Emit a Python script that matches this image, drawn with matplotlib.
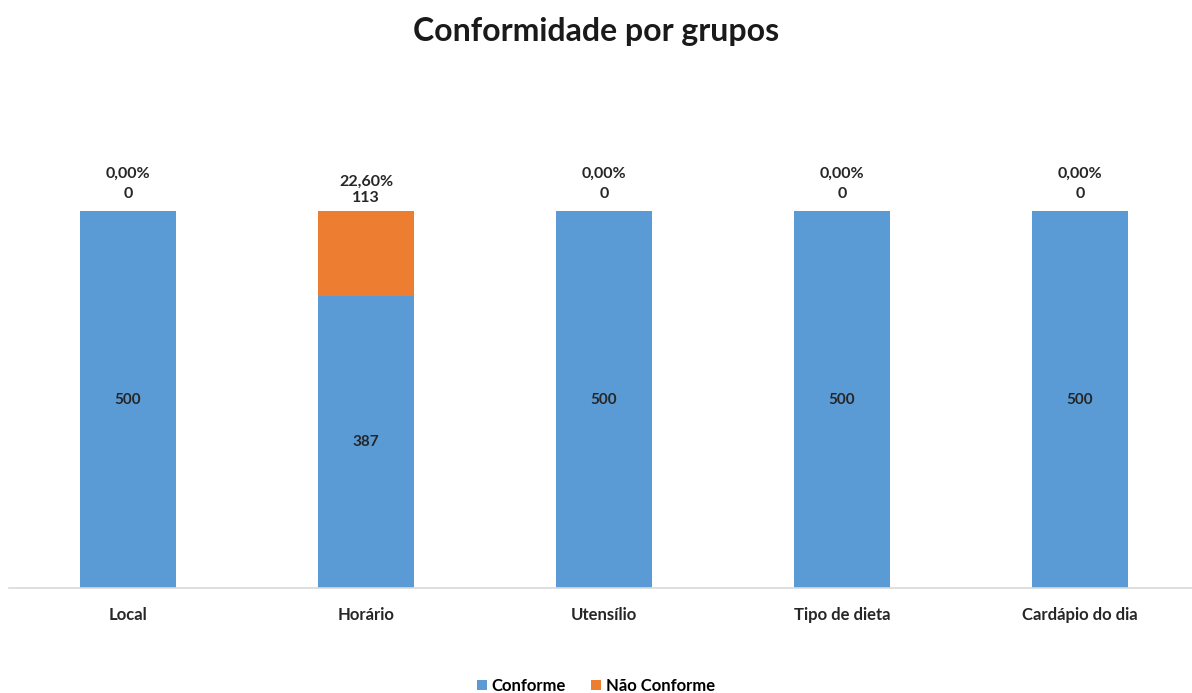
import matplotlib
matplotlib.use('Agg')
import matplotlib.pyplot as plt

categorias = ['Local', 'Horário', 'Utensílio', 'Tipo de dieta', 'Cardápio do dia']
conforme = [500, 387, 500, 500, 500]
nao_conforme = [0, 113, 0, 0, 0]
percentuais = ['0,00%', '22,60%', '0,00%', '0,00%', '0,00%']

_blue = '#5B9BD5'
_orange = '#ED7D31'

plt.rcParams['font.family'] = ['Lato', 'DejaVu Sans']

fig = plt.figure(figsize=(11.92, 6.93), dpi=100)
ax = fig.add_axes([9 / 1192, 105 / 693, 1183 / 1192, 482 / 693])

x = list(range(len(categorias)))
ax.bar(x, conforme, width=0.4, color=_blue, label='Conforme')
ax.bar(x, nao_conforme, width=0.4, bottom=conforme, color=_orange, label='Não Conforme')

ax.set_xlim(-0.5, -0.5 + 1183 / 238)
ax.set_ylim(0, 500 * 482 / 377)

for i, (c, n, p) in enumerate(zip(conforme, nao_conforme, percentuais)):
    ax.text(i, c / 2, str(c), ha='center', va='center', fontsize=11, fontweight='bold', color='#262626')
    off = 4 if n else 7
    ls = 1.25 if n else 1.6
    ax.annotate('{}\n{}'.format(p, n), (i, c + n), xytext=(0, off), textcoords='offset points',
                ha='center', va='bottom', fontsize=11.5, fontweight='bold', color='#262626',
                linespacing=ls)

ax.set_xticks(x)
ax.set_xticklabels(categorias, fontsize=12, fontweight='bold', color='#262626')
ax.tick_params(axis='x', length=0, pad=14)
ax.set_yticks([])
for s in ['top', 'right', 'left']:
    ax.spines[s].set_visible(False)
ax.spines['bottom'].set_color('#D9D9D9')
ax.spines['bottom'].set_linewidth(1.2)

fig.text(0.5, 1 - 31 / 693, 'Conformidade por grupos', ha='center', va='center',
         fontsize=23, fontweight='bold', color='#1a1a1a')

fig.legend(loc='center', bbox_to_anchor=(0.5, 1 - 686 / 693), ncol=2, frameon=False,
           prop={'weight': 'bold', 'size': 12}, handlelength=0.6, handleheight=0.6,
           handletextpad=0.3, columnspacing=1.5)

fig.savefig('out.png', dpi=100)
